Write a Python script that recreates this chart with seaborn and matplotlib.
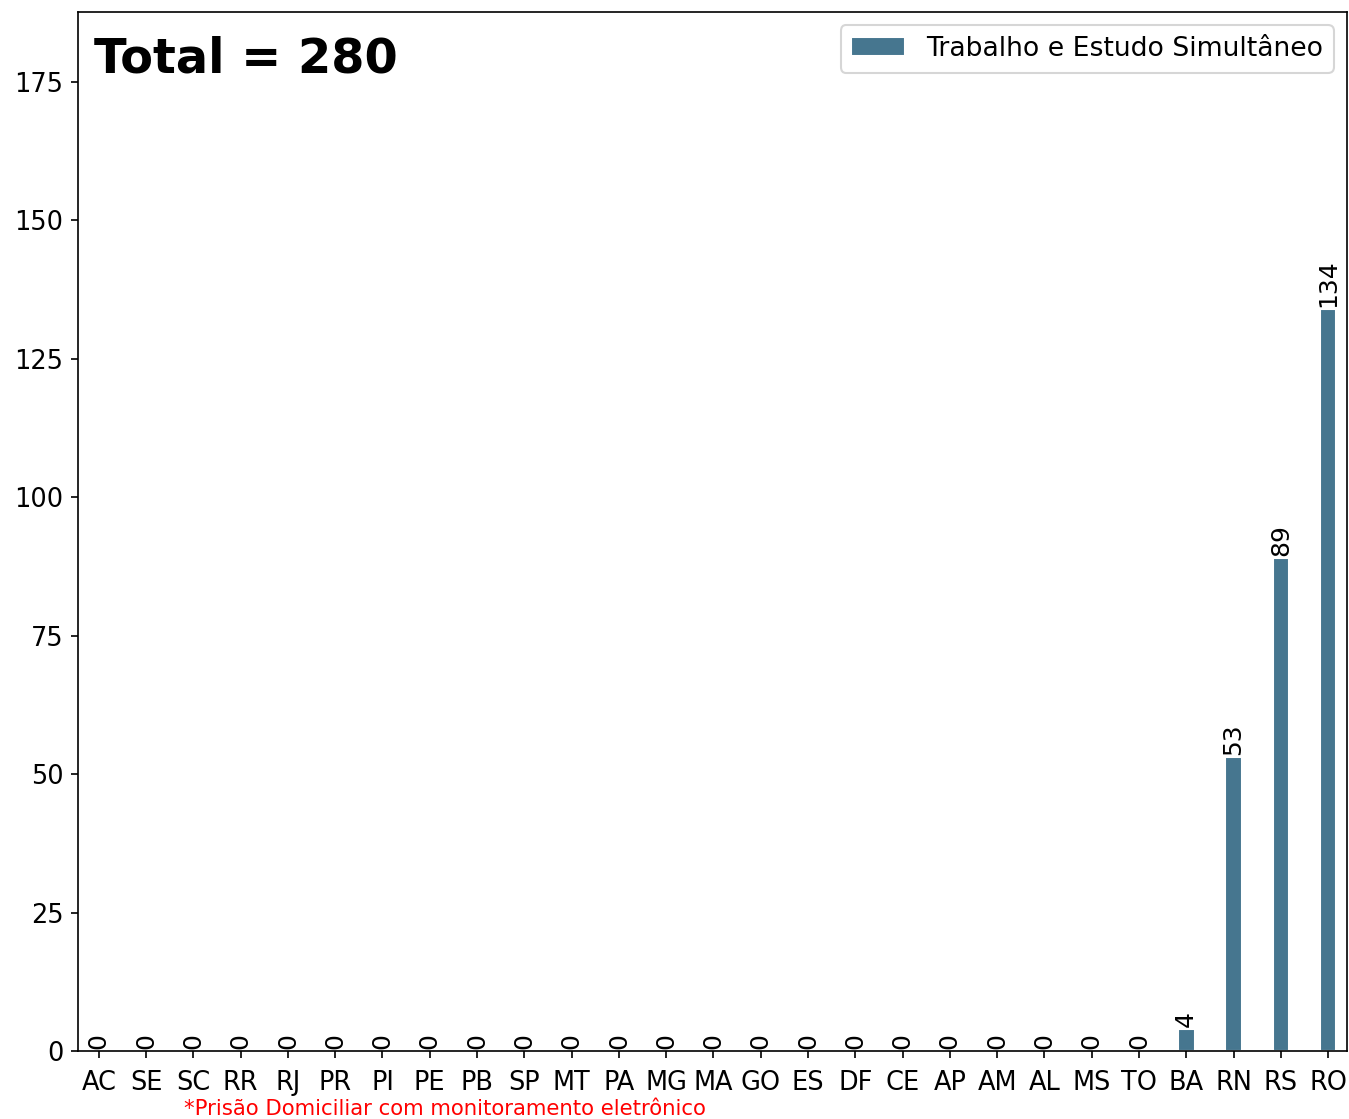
import pandas as pd
import seaborn as sns
import matplotlib.pyplot as plt

estados = ["AC", "SE", "SC", "RR", "RJ", "PR", "PI", "PE", "PB", "SP", "MT", "PA", "MG", "MA",
           "GO", "ES", "DF", "CE", "AP", "AM", "AL", "MS", "TO", "BA", "RN", "RS", "RO"]
valores = [0, 0, 0, 0, 0, 0, 0, 0, 0, 0, 0, 0, 0, 0,
           0, 0, 0, 0, 0, 0, 0, 0, 0, 4, 53, 89, 134]
serie = "Trabalho e Estudo Simultâneo"

df = pd.DataFrame({"UF": estados, "Quantidade": valores})

sns.set_style("ticks", rc={"text.color": "black", "axes.labelcolor": "black",
                           "xtick.color": "black", "ytick.color": "black",
                           "axes.edgecolor": "black"})
plt.rcParams["font.family"] = ["DejaVu Sans"]

fig = plt.figure(figsize=(1349 / 150, 1119 / 150), dpi=150)
ax = fig.add_axes([78 / 1349, 1 - 1051 / 1119, (1347 - 78) / 1349, (1051 - 12) / 1119])

sns.barplot(data=df, x="UF", y="Quantidade", color="#46768f", saturation=1,
            width=0.35, label=serie, ax=ax)

for c in ax.containers:
    ax.bar_label(c, rotation=90, fontsize=12, padding=1)

ax.set_xlim(-0.44, len(estados) - 0.6)
ax.set_ylim(0, max(valores) * 1.4)
ax.set_xlabel("")
ax.set_ylabel("")
ax.tick_params(labelsize=12.3)
ax.tick_params(axis="x", pad=5.5)
ax.legend(loc="upper right", fontsize=12.8)

ax.text(0.013, 0.942, "Total = %d" % sum(valores), transform=ax.transAxes,
        fontsize=23, fontweight="bold", va="baseline")
fig.text(0.33, 0.0, "*Prisão Domiciliar com monitoramento eletrônico",
         color="red", fontsize=10.2, ha="center", va="bottom")

fig.savefig("out.png", dpi=150)
